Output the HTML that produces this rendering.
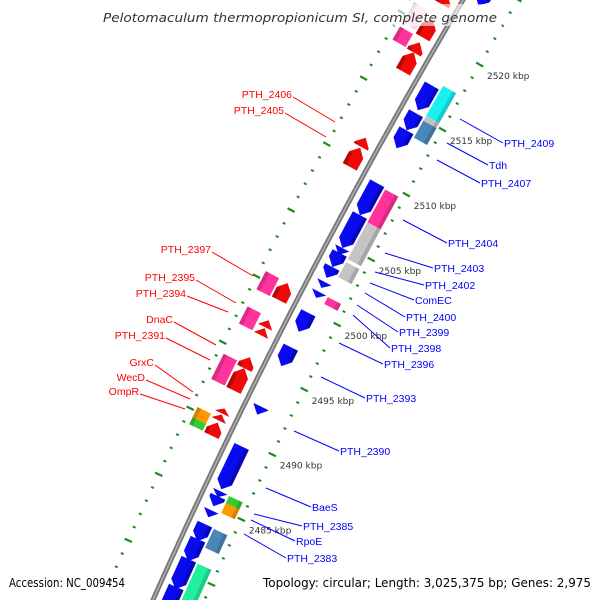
<!DOCTYPE html>
<html><head><meta charset="utf-8"><style>
html,body{margin:0;padding:0;background:#fff;width:600px;height:600px;overflow:hidden;}
svg{display:block;overflow:hidden;}
</style></head><body>
<svg id="map" width="600" height="600" viewBox="0 0 600 600" xmlns="http://www.w3.org/2000/svg" font-family="'Liberation Sans', 'DejaVu Sans', sans-serif">
<defs><clipPath id="clip"><rect x="0" y="0" width="600" height="600"/></clipPath></defs>
<g clip-path="url(#clip)">
<g id="ticks"></g>
<path id="backbone" fill="none" stroke="#777" stroke-width="5"></path>
<path id="backbone2" fill="none" stroke="#b0b0b0" stroke-width="1.5"></path>
<g id="genes"></g>
<g id="labels"></g>
</g>
<rect x="98" y="4" width="404" height="22" fill="#fff" opacity="0.6"/>
<text x="103" y="22" font-family="'DejaVu Sans', sans-serif" font-style="italic" font-size="12.5" fill="#333" textLength="394" lengthAdjust="spacingAndGlyphs">Pelotomaculum thermopropionicum SI, complete genome</text>
<text x="9" y="587" font-family="'DejaVu Sans', sans-serif" font-size="12" fill="#000" textLength="116" lengthAdjust="spacingAndGlyphs">Accession: NC_009454</text>
<text x="263" y="587" font-family="'DejaVu Sans', sans-serif" font-size="12" fill="#000" textLength="328" lengthAdjust="spacingAndGlyphs">Topology: circular; Length: 3,025,375 bp; Genes: 2,975</text>
</svg>
<script>
// ---- data (kbp) ----
const tickKbp = [2520, 2515, 2510, 2505, 2500, 2495, 2490, 2485];
const tickLabels = ["2520 kbp","2515 kbp","2510 kbp","2505 kbp","2500 kbp","2495 kbp","2490 kbp","2485 kbp"];
const leftTickStart = 2515.4;
// forward strand CDS (right, ring 1)
const fwdStart = [2524.08,2517.21,2515.08,2513.78,2509.73,2507.29,2504.77,2504.39,2503.32,2502.18,2501.41,2499.81,2497.18,2492.63,2489.58,2486.15,2485.76,2484.69,2483.63,2482.48,2480.95,2478.82];
const fwdEnd   = [2523.32,2515.31,2513.78,2512.40,2507.29,2504.77,2504.24,2503.32,2502.48,2501.72,2500.95,2498.36,2495.73,2492.02,2486.30,2485.69,2485.00,2484.16,2482.33,2480.80,2478.66,2476.57];
// reverse strand CDS (left, ring 1)
const revStart = [2522.94,2521.03,2519.28,2518.51,2512.02,2511.26,2500.95,2498.13,2497.52,2495.31,2494.47,2491.41,2490.95,2490.34];
const revEnd   = [2522.18,2519.66,2518.51,2517.06,2511.34,2509.81,2499.66,2497.60,2496.98,2494.47,2492.79,2491.03,2490.50,2489.35];
// COG-coloured features ring 2, right
const cogRStart = [2517.56,2515.27,2514.89,2509.62,2507.10,2504.05,2501.37,2486.11,2485.57,2483.59,2480.92];
const cogREnd   = [2515.27,2514.05,2513.59,2507.10,2504.28,2502.90,2500.84,2485.57,2484.81,2482.14,2477.33];
const cogRColor = ["#19f0f0","#c4c4c4","#4a86b8","#ff3399","#c4c4c4","#c4c4c4","#ff3399","#33cc33","#ff9900","#4a86b8","#22f0a0"];
// COG-coloured features ring 2, left
const cogLStart = [2521.37,2519.54,2500.99,2498.32,2494.73,2490.69,2489.92];
const cogLEnd   = [2519.85,2518.55,2499.62,2497.02,2492.82,2489.92,2489.39];
const cogLColor = ["#ffd0e4","#ff3399","#ff3399","#ff3399","#ff3399","#ff9900","#33cc33"];
// labels
const rightNames = ["PTH_2409","Tdh","PTH_2407","PTH_2404","PTH_2403","PTH_2402","ComEC","PTH_2400","PTH_2399","PTH_2398","PTH_2396","PTH_2393","PTH_2390","BaeS","PTH_2385","RpoE","PTH_2383"];
const leftNames = ["PTH_2406","PTH_2405","PTH_2397","PTH_2395","PTH_2394","DnaC","PTH_2391","GrxC","WecD","OmpR"];

// ---- geometry ----
const A=0.0001222, B=-0.59, C=463;
function yB(k){return 41+(2520-k)*13.1;}
function pt(k,d){const y=yB(k);const s=2*A*y+B;const n=Math.sqrt(1+s*s);return [A*y*y+B*y+C+d/n, y+d*(-s)/n];}
const NS="http://www.w3.org/2000/svg";
function mk(tag,attrs,parent){const e=document.createElementNS(NS,tag);for(const k in attrs)e.setAttribute(k,attrs[k]);parent.appendChild(e);return e;}
const P=a=>a.map(p=>p[0].toFixed(1)+","+p[1].toFixed(1)).join(" ");

// backbone
let dpath="";for(let y=-10;y<=610;y+=10){dpath+=(y===-10?"M":"L")+(A*y*y+B*y+C).toFixed(1)+","+y;}
document.getElementById('backbone').setAttribute('d',dpath);
document.getElementById('backbone2').setAttribute('d',dpath);

// ticks
const tg=document.getElementById('ticks');
for(let k=2477;k<=2525;k++){
  const major=(k%5===0);
  const a=pt(k,major?43:45.5),b=pt(k,major?51:48.5);
  const l=mk('line',{x1:a[0],y1:a[1],x2:b[0],y2:b[1],stroke:'#1a8c1a','stroke-width':major?2.2:2},tg);
  
  
}
for(let i=-8;i<=43;i++){
  const major=(((i%5)+5)%5===0);
  const kk=leftTickStart+5-i;
  const a=pt(kk,major?-43:-45.5),b=pt(kk,major?-51:-48.5);
  const l=mk('line',{x1:a[0],y1:a[1],x2:b[0],y2:b[1],stroke:'#1a8c1a','stroke-width':major?2.2:2},tg);
  
  
}
tickKbp.forEach((k,i)=>{
  const p=pt(k,52);
  const t=mk('text',{x:p[0]+3,y:p[1]+12,'font-size':9,fill:'#333','font-family':"'DejaVu Sans', sans-serif"},tg);
  t.textContent=tickLabels[i];
  
  
});

// genes
const gg=document.getElementById('genes');
function arrow(k1,k2,d0,d1,dir,color,name){
  const h=Math.min(0.55,(k1-k2));const m=(d0+d1)/2;let pts;
  if(dir>0) pts=[pt(k1,d0),pt(k1,d1),pt(k2+h,d1),pt(k2,m),pt(k2+h,d0)];
  else pts=[pt(k2,d0),pt(k2,d1),pt(k1-h,d1),pt(k1,m),pt(k1-h,d0)];
  const e=mk('polygon',{points:P(pts),fill:color},gg);
  
  
  let sp;
  if(dir>0) sp=[pt(k1,d1-4),pt(k1,d1),pt(k2+h,d1),pt(k2+h,d1-4)];
  else sp=[pt(k2,d1+4),pt(k2,d1),pt(k1-h,d1),pt(k1-h,d1+4)];
  const s=mk('polygon',{points:P(sp),fill:'#000',opacity:0.22},gg);
  
  
}
function box(k1,k2,d0,d1,color,name){
  const e=mk('polygon',{points:P([pt(k1,d0),pt(k1,d1),pt(k2,d1),pt(k2,d0)]),fill:color},gg);
  
  
  const sd=d1>0?d1-4:d1+4;
  const s=mk('polygon',{points:P([pt(k1,sd),pt(k1,d1),pt(k2,d1),pt(k2,sd)]),fill:'#000',opacity:0.15},gg);
  
  
}
fwdStart.forEach((s,i)=>arrow(s,fwdEnd[i],8,24,1,'#0a0aee','forward-cds'));
revStart.forEach((s,i)=>arrow(s,revEnd[i],-8,-24,-1,'#ee0a0a','reverse-cds'));
cogRStart.forEach((s,i)=>box(s,cogREnd[i],26,41,cogRColor[i],'cog-feature-right'));
cogLStart.forEach((s,i)=>box(s,cogLEnd[i],-26,-41,cogLColor[i],'cog-feature-left'));

// labels
const lg=document.getElementById('labels');
const rightLines=[[460,119,503,143],[447,143,488,165],[437,160,480,183],[403,220,447,243],[385,253,433,268],[375,272,424,285],[370,283,414,300],[365,293,405,317],[357,305,398,332],[353,315,390,348],[339,343,383,364],[321,377,365,398],[294,431,339,451],[266,488,311,507],[254,514,302,526],[251,520,295,541],[244,534,286,558]];
const leftLines=[[293,97,335,122],[285,113,326,137],[212,252,253,276],[196,280,236,303],[187,296,228,312],[174,322,216,345],[166,338,210,360],[155,365,193,392],[146,380,190,399],[140,394,185,409]];
rightNames.forEach((n,i)=>{
  const L=rightLines[i];
  const l=mk('line',{x1:L[0],y1:L[1],x2:L[2],y2:L[3],stroke:'#0000ff','stroke-width':1},lg);
  
  
  const t=mk('text',{x:L[2]+1,y:L[3]+4,'font-size':10.5,fill:'#0000ff'},lg);
  t.textContent=n;
  
  
});
leftNames.forEach((n,i)=>{
  const L=leftLines[i];
  const l=mk('line',{x1:L[0],y1:L[1],x2:L[2],y2:L[3],stroke:'#ff0000','stroke-width':1},lg);
  
  
  const t=mk('text',{x:L[0]-1,y:L[1]+1,'font-size':10.5,fill:'#ff0000','text-anchor':'end'},lg);
  t.textContent=n;
  
  
});
</script>
</body></html>
